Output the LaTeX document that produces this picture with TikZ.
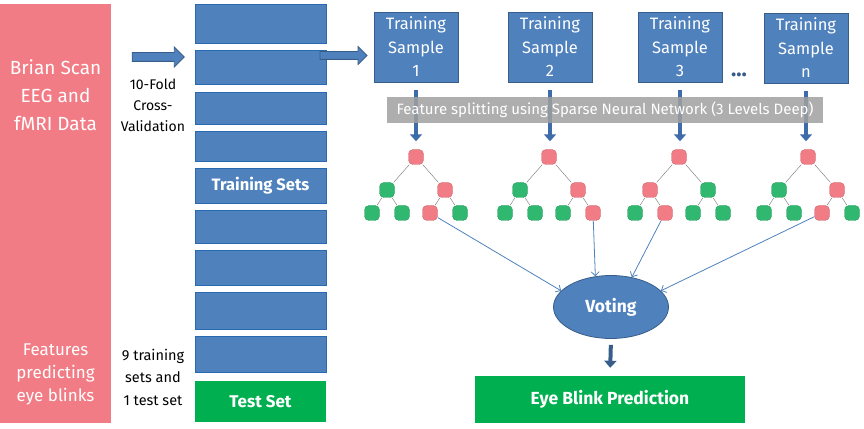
\documentclass[tikz,border=0pt]{standalone}
\usepackage{fontspec}
\setmainfont{Fira Sans}
\usepackage{tikz}
\usetikzlibrary{shapes,arrows.meta}

\definecolor{rosa}{RGB}{242,124,133}
\definecolor{azul}{RGB}{79,129,189}
\definecolor{azulBorde}{RGB}{40,106,178}
\definecolor{azulOscuro}{RGB}{56,93,138}
\definecolor{azulFlecha}{RGB}{62,108,170}
\definecolor{verde}{RGB}{0,176,80}
\definecolor{hojaVerde}{RGB}{48,184,112}
\definecolor{gris}{RGB}{160,160,160}

\begin{document}
\begin{tikzpicture}[x=1pt,y=1pt]
    \tikzset{foldBox/.style = {shape=rectangle,draw=azulBorde,fill=azul,thick,minimum width=131pt,text=white,font=\bfseries\fontsize{16.5}{19}\selectfont}}
    \tikzset{sampleBox/.style = {shape=rectangle,draw=azulOscuro,fill=azul,thick,minimum width=84pt,minimum height=70pt,inner sep=0pt,align=center,text=white,font=\fontsize{16.5}{23.5}\selectfont}}
    \tikzset{greenBox/.style = {shape=rectangle,fill=verde,text=white,font=\bfseries\fontsize{17.5}{19}\selectfont}}
    \tikzset{RedLeaf/.style = {shape=rectangle,rounded corners=4.5pt,draw=rosa!85!black,fill=rosa,minimum size=15pt,inner sep=0pt}}
    \tikzset{GreenLeaf/.style = {shape=rectangle,rounded corners=4.5pt,draw=hojaVerde!85!black,fill=hojaVerde,minimum size=15pt,inner sep=0pt}}
    \tikzset{blockArrow/.style = {shape=single arrow,draw=azulOscuro,fill=azul,thick,minimum width=19pt,inner xsep=0pt,inner ysep=4pt,single arrow head extend=5.5pt,single arrow head indent=0pt}}
    \tikzset{note/.style = {align=center,font=\fontsize{14}{21}\selectfont}}

    \tikzset{thickArrow/.style = {-{Triangle[width=12pt,length=7pt]},line width=4.5pt,draw=azulFlecha}}
    \tikzset{thinArrow/.style = {-{Straight Barb[length=4pt,width=8pt]},draw=azul,thick}}
    \tikzset{level 1/.style = {sibling distance=58pt,level distance=33pt}}
    \tikzset{level 2/.style = {sibling distance=30pt,level distance=23pt}}
    \tikzset{edge from parent/.style = {draw=black!55,thin}}

    \useasboundingbox (0,0) rectangle (864,428);

    \node[shape=rectangle,fill=rosa,minimum width=111pt,minimum height=419pt] (Source) at (55.5,214.5) {};
    \node[align=center,text=white,font=\fontsize{19}{28}\selectfont] (SourceTop) at (55.5,333) {Brian Scan\\EEG and\\fMRI Data};
    \node[align=center,text=white,font=\fontsize{17}{23}\selectfont] (SourceBottom) at (55.5,54) {Features\\predicting\\eye blinks};

    \node[blockArrow,minimum height=52pt] (ArrowA) at (156,371) {};
    \node[note] (CrossVal) at (153,323) {10-Fold\\Cross-\\Validation};
    \node[note,font=\fontsize{14.5}{22.5}\selectfont] (SetsNote) at (153,51) {9 training\\sets and\\1 test set};

    \node[foldBox,minimum height=39pt] (Fold1) at (260.5,404.5) {};
    \node[foldBox,minimum height=34pt] (Fold2) at (260.5,361) {};
    \node[foldBox,minimum height=32pt] (Fold3) at (260.5,320) {};
    \node[foldBox,minimum height=30pt] (Fold4) at (260.5,282) {};
    \node[foldBox,minimum height=35pt] (Fold5) at (260.5,242.5) {Training Sets};
    \node[foldBox,minimum height=33pt] (Fold6) at (260.5,201.5) {};
    \node[foldBox,minimum height=35pt] (Fold7) at (260.5,160.5) {};
    \node[foldBox,minimum height=37pt] (Fold8) at (260.5,117.5) {};
    \node[foldBox,minimum height=36pt] (Fold9) at (260.5,74) {};
    \node[greenBox,minimum width=131pt,minimum height=41pt,font=\bfseries\fontsize{17}{19}\selectfont] (TestSet) at (260.5,26.5) {Test Set};

    \node[blockArrow,minimum height=47pt,minimum width=17pt,inner ysep=3.5pt,single arrow head extend=5pt] (ArrowB) at (341.5,372.5) {};

    \node[sampleBox] (Sample1) at (416,381) {Training\\Sample\\1};
    \node[sampleBox] (Sample2) at (550,381) {Training\\Sample\\2};
    \node[sampleBox] (Sample3) at (680,381) {Training\\Sample\\3};
    \node[sampleBox] (SampleN) at (806,380) {Training\\Sample\\n};
    \node[text=azulOscuro,font=\bfseries\fontsize{22}{22}\selectfont] (Dots) at (739,353) {...};

    \node[RedLeaf] (T1) at (416,271) {}
        child {node[GreenLeaf] {} child {node[GreenLeaf] {}} child {node[GreenLeaf] {}}}
        child {node[RedLeaf] {} child {node[RedLeaf] {}} child {node[GreenLeaf] {}}};
    \node[RedLeaf] (T2) at (549,271) {}
        child {node[GreenLeaf] {} child {node[GreenLeaf] {}} child {node[GreenLeaf] {}}}
        child {node[RedLeaf] {} child {node[GreenLeaf] {}} child {node[RedLeaf] {}}};
    \node[RedLeaf] (T3) at (679,271) {}
        child {node[RedLeaf] {} child {node[GreenLeaf] {}} child {node[RedLeaf] {}}}
        child {node[GreenLeaf] {} child {node[GreenLeaf] {}} child {node[GreenLeaf] {}}};
    \node[RedLeaf] (T4) at (808,271) {}
        child {node[GreenLeaf] {} child {node[GreenLeaf] {}} child {node[GreenLeaf] {}}}
        child {node[RedLeaf] {} child {node[RedLeaf] {}} child {node[GreenLeaf] {}}};

    \draw[thickArrow,shorten <=8pt,shorten >=8pt] (Sample1.south) -- (Sample1.south |- T1.north);
    \draw[thickArrow,shorten <=8pt,shorten >=8pt] (Sample2.south) -- (Sample2.south |- T2.north);
    \draw[thickArrow,shorten <=8pt,shorten >=8pt] (Sample3.south) -- (Sample3.south |- T3.north);
    \draw[thickArrow,shorten <=8pt,shorten >=8pt] (SampleN.south) -- (SampleN.south |- T4.north);

    \node[shape=rectangle,fill=gris,fill opacity=0.85,text opacity=1,text=white,minimum width=436pt,minimum height=26pt,font=\fontsize{15}{15}\selectfont] (Splitting) at (605,318) {Feature splitting using Sparse Neural Network (3 Levels Deep)};

    \node[shape=ellipse,draw=azulOscuro,fill=azul,thick,minimum width=115pt,minimum height=63pt,text=white,font=\bfseries\fontsize{17.5}{17}\selectfont] (Vote) at (611,121) {Voting};
    \node[greenBox,minimum width=270pt,minimum height=47pt] (Prediction) at (610,28.5) {Eye Blink Prediction};

    \draw[thinArrow] (T1-2-1) -- (Vote.162);
    \draw[thinArrow] (T2-2-2) -- (Vote.117);
    \draw[thinArrow] (T3-1-2) -- (Vote.55);
    \draw[thinArrow] (T4-2-1) -- (Vote.18);

    \draw[thickArrow,draw=azulOscuro,line width=4pt,shorten <=6pt,shorten >=8pt] (Vote.south) -- (Prediction.north);

\end{tikzpicture}
\end{document}
